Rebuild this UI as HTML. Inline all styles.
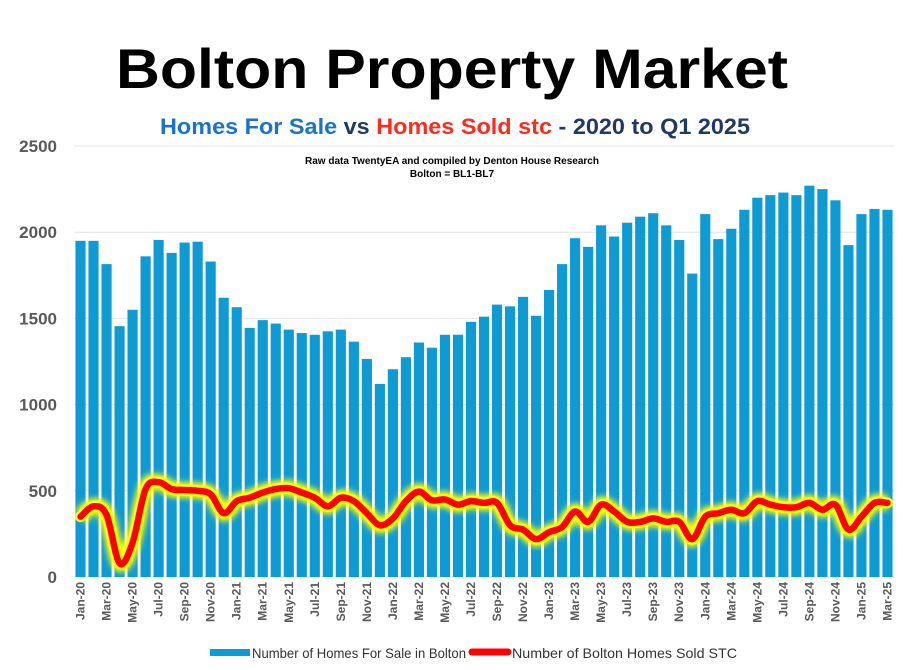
<!DOCTYPE html>
<html><head><meta charset="utf-8"><style>
body{margin:0;background:#fff;}
svg{display:block;font-family:"Liberation Sans",sans-serif;}
</style></head><body>
<svg id="chart" width="903" height="670">
<defs><filter id="glow" x="-10%" y="-50%" width="120%" height="200%"><feGaussianBlur stdDeviation="3"/></filter></defs>
<text x="452" y="88" text-anchor="middle" font-size="56" font-weight="bold" fill="#000" textLength="672" lengthAdjust="spacingAndGlyphs">Bolton Property Market</text>
<text x="455" y="134" text-anchor="middle" font-size="22" font-weight="bold" textLength="590" lengthAdjust="spacingAndGlyphs"><tspan fill="#1a73c9">Homes For Sale</tspan><tspan fill="#1f3864"> vs </tspan><tspan fill="#ff2a1a">Homes Sold stc</tspan><tspan fill="#1f3864"> - 2020 to Q1 2025</tspan></text>
<text x="452" y="164" text-anchor="middle" font-size="10" font-weight="bold">Raw data TwentyEA and compiled by Denton House Research</text>
<text x="452" y="177" text-anchor="middle" font-size="10" font-weight="bold">Bolton = BL1-BL7</text>
<g id="grid"></g><g id="yticks"></g><g id="bars"></g><g id="line"></g><g id="xlabels"></g>
<rect x="210" y="649" width="40" height="7" fill="#0e9bd4"/>
<text x="252" y="658" font-size="14" fill="#333" textLength="214" lengthAdjust="spacingAndGlyphs">Number of Homes For Sale in Bolton</text>
<line x1="472" y1="652" x2="508" y2="652" stroke="#ffff00" stroke-width="12" filter="url(#glow)"/>
<line x1="472" y1="652" x2="508" y2="652" stroke="#ff0000" stroke-width="7" stroke-linecap="round"/>
<text x="512" y="658" font-size="14" fill="#333" textLength="225" lengthAdjust="spacingAndGlyphs">Number of Bolton Homes Sold STC</text>
</svg>
<script>
const yTicks=[0,500,1000,1500,2000,2500];
const years=["20","21","22","23","24","25"];
const monthNames=["Jan","Feb","Mar","Apr","May","Jun","Jul","Aug","Sep","Oct","Nov","Dec"];
const forSale=[1950,1950,1815,1455,1550,1860,1955,1880,1940,1945,1830,1620,
1565,1445,1490,1470,1435,1415,1405,1425,1435,1365,1265,1120,
1205,1275,1360,1330,1405,1405,1480,1510,1580,1570,1625,1515,
1665,1815,1965,1915,2040,1975,2055,2090,2110,2040,1955,1760,
2105,1960,2020,2130,2200,2215,2230,2215,2270,2250,2185,1925,
2105,2135,2130];
const soldStc=[350,410,360,80,200,510,550,510,505,500,480,370,
440,460,490,510,515,490,460,410,460,440,370,300,
340,440,495,445,450,420,440,430,430,300,275,220,
260,290,380,320,420,380,320,320,340,320,320,220,
350,370,390,370,440,420,405,405,430,390,420,275,
350,430,430];
const categories=[];
for(let i=0;i<forSale.length;i++){categories.push(monthNames[i%12]+"-"+years[Math.floor(i/12)]);}
const NS="http://www.w3.org/2000/svg";
const X0=74,X1=894,Y0=577,Y1=146,YMAX=2500;
const step=(X1-X0)/categories.length;
const y=v=>Y0-(v/YMAX)*(Y0-Y1);
const xc=i=>X0+step*(i+0.5);
function mk(t,a,p){const e=document.createElementNS(NS,t);for(const k in a)e.setAttribute(k,a[k]);p.appendChild(e);return e;}
const grid=document.getElementById('grid'),yt=document.getElementById('yticks');
yTicks.forEach(v=>{
 const l=mk('line',{x1:X0,x2:X1,y1:y(v),y2:y(v),stroke:'#e4e4e4','stroke-width':1},grid);
 
 
 const t=mk('text',{x:57,y:y(v)+6,'text-anchor':'end','font-size':17,'font-weight':'bold',fill:'#595959'},yt);
 t.textContent=v;
 
 
});
const bars=document.getElementById('bars');
forSale.forEach((v,i)=>{
 const bw=step*0.78;
 const r=mk('rect',{x:xc(i)-bw/2,y:y(v),width:bw,height:Y0-y(v),fill:'#0e9bd4'},bars);
 
 
});
const xl=document.getElementById('xlabels');
categories.forEach((c,i)=>{
 if(i%2)return;
 const t=mk('text',{x:0,y:0,'text-anchor':'end','font-size':12,'font-weight':'bold',fill:'#595959',transform:`translate(${xc(i)+4},582) rotate(-90)`},xl);
 t.textContent=c;
 
 
});
const pts=soldStc.map((v,i)=>[xc(i),y(v)]);
let d=`M${pts[0][0]},${pts[0][1]}`;
for(let i=0;i<pts.length-1;i++){
 const p0=pts[i-1]||pts[i],p1=pts[i],p2=pts[i+1],p3=pts[i+2]||p2;
 const c1=[p1[0]+(p2[0]-p0[0])/6,p1[1]+(p2[1]-p0[1])/6];
 const c2=[p2[0]-(p3[0]-p1[0])/6,p2[1]-(p3[1]-p1[1])/6];
 d+=` C${c1[0]},${c1[1]} ${c2[0]},${c2[1]} ${p2[0]},${p2[1]}`;
}
const lg=document.getElementById('line');
mk('path',{d:d,fill:'none',stroke:'#ffff00','stroke-width':16,'stroke-linejoin':'round',filter:'url(#glow)'},lg);
mk('path',{d:d,fill:'none',stroke:'#ffff00','stroke-width':11,'stroke-linejoin':'round','stroke-linecap':'round'},lg);
const ln=mk('path',{d:d,fill:'none',stroke:'#ff0000','stroke-width':6.5,'stroke-linejoin':'round','stroke-linecap':'round'},lg);


</script>
</body></html>
